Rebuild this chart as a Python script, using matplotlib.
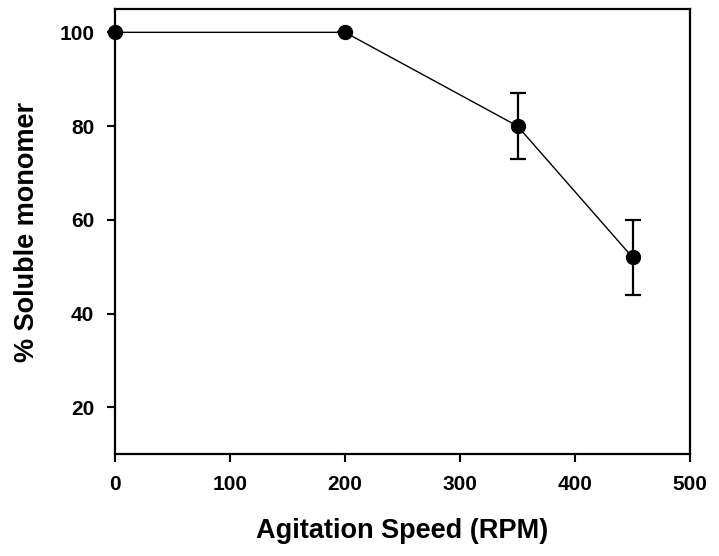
"""Soluble monomer fraction versus agitation speed."""

import matplotlib

matplotlib.use("Agg")
import matplotlib.pyplot as plt  # noqa: E402

# --- data ---
speed_rpm = [0, 200, 350, 450]
soluble_pct = [100, 100, 80, 52]
soluble_err = [0, 0, 7, 8]

x_ticks = [0, 100, 200, 300, 400, 500]
y_ticks = [20, 40, 60, 80, 100]

plt.rcParams["font.family"] = ["Liberation Sans", "DejaVu Sans"]
plt.rcParams["font.weight"] = "bold"

fig = plt.figure(figsize=(7.19, 5.56), dpi=100)
ax = fig.add_axes([0.16, 0.183, 0.7997, 0.801])

ax.errorbar(
    speed_rpm, soluble_pct, yerr=soluble_err,
    color="black", lw=1.0, marker="o", ms=10,
    elinewidth=1.6, capsize=5.5, capthick=1.6, clip_on=False, zorder=3,
)

ax.set_xlim(0, 500)
ax.set_ylim(10, 105)
ax.set_xticks(x_ticks)
ax.set_yticks(y_ticks)
ax.tick_params(direction="out", length=6, width=1.5, labelsize=15)
ax.tick_params(axis="x", pad=9)
ax.tick_params(axis="y", pad=9)

for s in ax.spines.values():
    s.set_linewidth(1.6)

ax.set_xlabel("Agitation Speed (RPM)", fontsize=19.5, fontweight="bold", labelpad=17)
ax.set_ylabel("% Soluble monomer", fontsize=19.5, fontweight="bold", labelpad=14)

fig.savefig("out.png", dpi=100)
